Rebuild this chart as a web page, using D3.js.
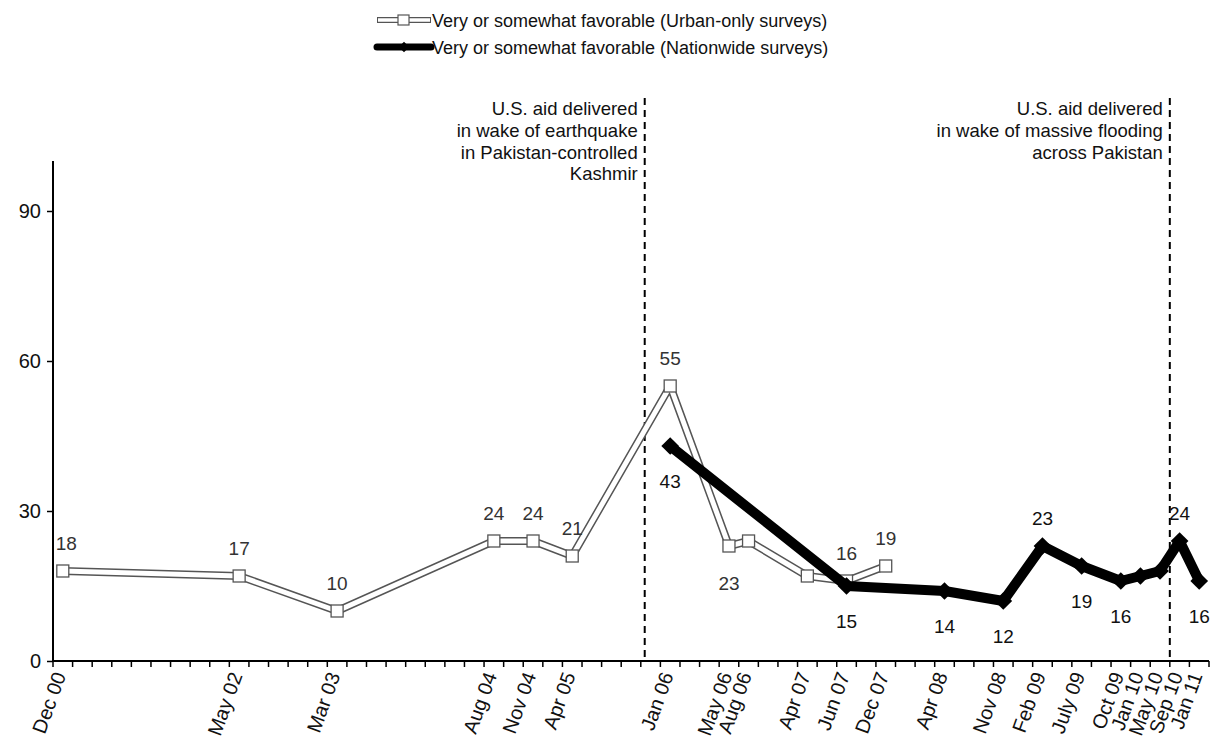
<!DOCTYPE html>
<html>
<head>
<meta charset="utf-8">
<script src="https://cdn.jsdelivr.net/npm/d3@7"></script>
<style>
  html, body { margin: 0; padding: 0; background: #fff; }
  svg { display: block; font-family: "Liberation Sans", Arial, sans-serif; }
</style>
</head>
<body>
<svg id="chart" width="1210" height="753"></svg>
<script>
// ---- data ----
const slotCount = 59; // category slots on the x axis
const surveyLabels = ["Dec 00","May 02","Mar 03","Aug 04","Nov 04","Apr 05","Jan 06","May 06","Aug 06","Apr 07","Jun 07","Dec 07","Apr 08","Nov 08","Feb 09","July 09","Oct 09","Jan 10","May 10","Sep 10","Jan 11"];
const surveySlots  = [0, 9, 14, 22, 24, 26, 31, 34, 35, 38, 40, 42, 45, 48, 50, 52, 54, 55, 56, 57, 58];

const urbanDates  = ["Dec 00","May 02","Mar 03","Aug 04","Nov 04","Apr 05","Jan 06","May 06","Aug 06","Apr 07","Jun 07","Dec 07"];
const urbanValues = [18, 17, 10, 24, 24, 21, 55, 23, 24, 17, 16, 19];
const urbanLabels = ["18","17","10","24","24","21","55","23","","","16","19"];
const urbanLabelSide = ["a","a","a","a","a","a","a","b","","","a","a"];

const nationDates  = ["Jan 06","Jun 07","Apr 08","Nov 08","Feb 09","July 09","Oct 09","Jan 10","May 10","Sep 10","Jan 11"];
const nationValues = [43, 15, 14, 12, 23, 19, 16, 17, 18, 24, 16];
const nationLabels = ["43","15","14","12","23","19","16","","","24","16"];
const nationLabelSide = ["b","b","b","b","a","b","b","","","a","b"];

const yTicks = [0, 30, 60, 90];

const legendLabels = ["Very or somewhat favorable (Urban-only surveys)", "Very or somewhat favorable (Nationwide surveys)"];

const eventSlots = [30.2, 57];
const eventTexts = [
  ["U.S. aid delivered", "in wake of earthquake", "in Pakistan-controlled", "Kashmir"],
  ["U.S. aid delivered", "in wake of massive flooding", "across Pakistan"]
];

// ---- layout ----
const svg = d3.select("#chart");
const mLeft = 53, mRight = 1209, mTop = 161, mBottom = 661;

const x = d3.scaleBand().domain(d3.range(slotCount)).range([mLeft, mRight]).padding(0);
const bw = x.bandwidth();
const xc = s => x(s) + bw / 2;
const slotOf = d => surveySlots[surveyLabels.indexOf(d)];
const xEdgeScale = d3.scaleLinear().domain([0, slotCount]).range([mLeft, mRight]);

const y = d3.scaleLinear().domain([0, 100]).range([mBottom, mTop]);

// ---- axes ----
const yAxis = d3.axisLeft(y).tickValues(yTicks).tickSize(6).tickPadding(6);
const gy = svg.append("g").attr("transform", `translate(${mLeft},0)`).call(yAxis);
gy.select(".domain").attr("stroke", "#000").attr("stroke-width", 2).attr("d", `M0,${y(100)}V${y(0)}`);
gy.selectAll(".tick line").attr("stroke", "#000").attr("stroke-width", 1.5);
gy.selectAll(".tick text").attr("font-size", 20).attr("fill", "#111").attr("font-family", "Liberation Sans, Arial, sans-serif");

// x axis line + boundary ticks
svg.append("line").attr("x1", mLeft).attr("x2", mRight).attr("y1", y(0)).attr("y2", y(0))
  .attr("stroke", "#000").attr("stroke-width", 2);
svg.append("g").selectAll("line").data(d3.range(slotCount + 1)).join("line")
  .attr("x1", d => xEdgeScale(d)).attr("x2", d => xEdgeScale(d))
  .attr("y1", y(0)).attr("y2", y(0) + 6)
  .attr("stroke", "#000").attr("stroke-width", 1.5);

// x labels (rotated)
svg.append("g").selectAll("text").data(surveyLabels).join("text")
  .attr("transform", (d, i) => `translate(${xc(surveySlots[i]) - 3},${y(0) + 12}) rotate(-70)`)
  .attr("text-anchor", "end")
  .attr("dy", "0.35em")
  .attr("font-size", 20)
  .attr("fill", "#111")
  .text(d => d);

// ---- event annotations ----
eventSlots.forEach((s, k) => {
  const ex = xEdgeScale(s);
  svg.append("line").attr("x1", ex).attr("x2", ex).attr("y1", 98).attr("y2", y(0))
    .attr("stroke", "#000").attr("stroke-width", 2).attr("stroke-dasharray", "7,5");
  svg.append("g").selectAll("text").data(eventTexts[k]).join("text")
    .attr("x", ex - 7).attr("y", (d, i) => 115 + i * 21.8)
    .attr("text-anchor", "end").attr("font-size", 18.5).attr("fill", "#111")
    .text(d => d);
});

// ---- urban series (hollow line) ----
const urbanPts = urbanDates.map((d, i) => [xc(slotOf(d)), y(urbanValues[i])]);
const line = d3.line();
svg.append("path").attr("d", line(urbanPts)).attr("fill", "none")
  .attr("stroke", "#555").attr("stroke-width", 8).attr("stroke-linejoin", "round");
svg.append("path").attr("d", line(urbanPts)).attr("fill", "none")
  .attr("stroke", "#fff").attr("stroke-width", 5).attr("stroke-linejoin", "round");
svg.append("g").selectAll("rect").data(urbanPts).join("rect")
  .attr("x", d => d[0] - 6).attr("y", d => d[1] - 6).attr("width", 12).attr("height", 12)
  .attr("fill", "#fff").attr("stroke", "#555").attr("stroke-width", 1.3);

svg.append("g").selectAll("text").data(urbanLabels).join("text")
  .attr("x", (d, i) => i === 0 ? urbanPts[i][0] - 7 : urbanPts[i][0])
  .attr("y", (d, i) => urbanLabelSide[i] === "a" ? urbanPts[i][1] - 21 : urbanPts[i][1] + 44)
  .attr("text-anchor", (d, i) => i === 0 ? "start" : "middle")
  .attr("font-size", 19).attr("fill", "#333")
  .text(d => d);

// ---- nationwide series (thick black) ----
const natPts = nationDates.map((d, i) => [xc(slotOf(d)), y(nationValues[i])]);
svg.append("path").attr("d", line(natPts)).attr("fill", "none")
  .attr("stroke", "#000").attr("stroke-width", 10).attr("stroke-linejoin", "round");
svg.append("g").selectAll("path").data(natPts).join("path")
  .attr("d", d3.symbol().type(d3.symbolDiamond2).size(200))
  .attr("transform", d => `translate(${d[0]},${d[1]})`)
  .attr("fill", "#000");

svg.append("g").selectAll("text").data(nationLabels).join("text")
  .attr("x", (d, i) => natPts[i][0])
  .attr("y", (d, i) => nationLabelSide[i] === "a" ? natPts[i][1] - 21 : natPts[i][1] + 42)
  .attr("text-anchor", "middle")
  .attr("font-size", 19).attr("fill", "#111")
  .text(d => d);

// ---- legend ----
const lg = svg.append("g");
lg.append("line").attr("x1", 377).attr("x2", 431).attr("y1", 20).attr("y2", 20)
  .attr("stroke", "#555").attr("stroke-width", 6);
lg.append("line").attr("x1", 378).attr("x2", 430).attr("y1", 20).attr("y2", 20)
  .attr("stroke", "#fff").attr("stroke-width", 3.5);
lg.append("rect").attr("x", 398).attr("y", 15).attr("width", 11).attr("height", 10)
  .attr("fill", "#fff").attr("stroke", "#555").attr("stroke-width", 1.2);
lg.append("line").attr("x1", 377).attr("x2", 431).attr("y1", 47).attr("y2", 47)
  .attr("stroke", "#000").attr("stroke-width", 7).attr("stroke-linecap", "round");
lg.append("path").attr("d", d3.symbol().type(d3.symbolDiamond2).size(70))
  .attr("transform", "translate(404,47)").attr("fill", "#000");
lg.selectAll("text").data(legendLabels).join("text")
  .attr("x", 432).attr("y", (d, i) => 27 + i * 27)
  .attr("font-size", 18).attr("fill", "#111")
  .text(d => d);
</script>
</body>
</html>
